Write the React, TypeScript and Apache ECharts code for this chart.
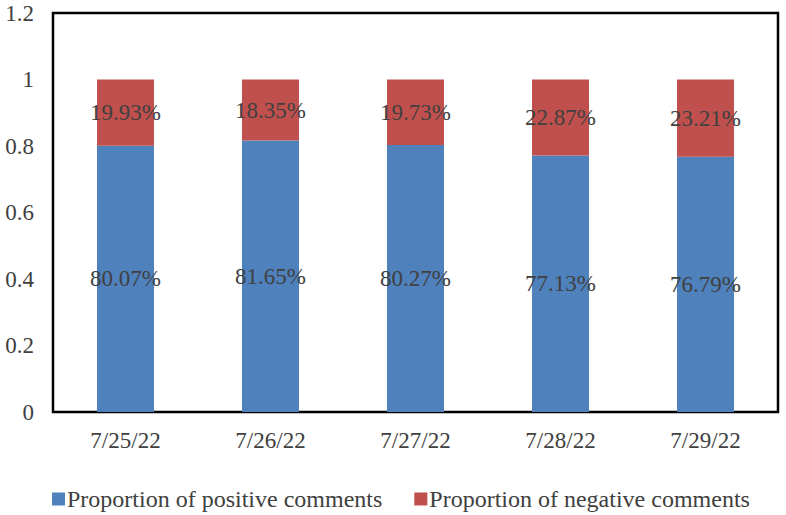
import React, { useEffect, useRef } from "react";
import * as echarts from "echarts";

const categories = ["7/25/22", "7/26/22", "7/27/22", "7/28/22", "7/29/22"];
const positive = [0.8007, 0.8165, 0.8027, 0.7713, 0.7679];
const negative = [0.1993, 0.1835, 0.1973, 0.2287, 0.2321];
const yTicks = ["0", "0.2", "0.4", "0.6", "0.8", "1", "1.2"];

const FONT = "'Liberation Serif', 'Times New Roman', serif";

export default function App() {
  const ref = useRef<HTMLDivElement>(null);
  useEffect(() => {
    if (!ref.current) return;
    const chart = echarts.init(ref.current, undefined, { renderer: "svg" });
    const label = {
      show: true,
      position: "inside" as const,
      color: "#404040",
      fontFamily: FONT,
      fontSize: 23,
      formatter: (p: any) => (p.value * 100).toFixed(2) + "%",
    };
    chart.setOption({
      animation: false,
      grid: {
        left: 53,
        right: 8,
        top: 13,
        bottom: 103,
        show: true,
        borderColor: "#000",
        borderWidth: 2.5,
        backgroundColor: "#fff",
        outerBoundsMode: "none",
      },
      legend: {
        top: 482,
        left: 47,
        itemWidth: 13,
        itemHeight: 13,
        itemGap: 32,
        icon: "rect",
        textStyle: { fontFamily: FONT, fontSize: 24, color: "#404040", padding: [0, 0, 0, -3] },
        data: ["Proportion of positive comments", "Proportion of negative comments"],
      },
      xAxis: {
        type: "category",
        data: categories,
        axisLine: { show: false },
        axisTick: { show: false },
        axisLabel: { fontFamily: FONT, fontSize: 23, color: "#404040", margin: 17 },
      },
      yAxis: {
        type: "value",
        min: 0,
        max: 1.2,
        interval: 0.2,
        splitLine: { show: false },
        axisLine: { show: false },
        axisTick: { show: false },
        axisLabel: {
          fontFamily: FONT,
          fontSize: 23,
          color: "#404040",
          margin: 19,
          formatter: (v: number) => yTicks[Math.round(v / 0.2)] ?? String(v),
        },
      },
      series: [
        {
          name: "Proportion of positive comments",
          type: "bar",
          stack: "total",
          data: positive,
          barWidth: 57,
          itemStyle: { color: "#4F81BD" },
          label,
        },
        {
          name: "Proportion of negative comments",
          type: "bar",
          stack: "total",
          data: negative,
          barWidth: 57,
          itemStyle: { color: "#C0504D" },
          label,
        },
      ],
    });
    return () => chart.dispose();
  }, []);
  return (
    <div
      ref={ref}
      style={{ position: "absolute", left: 0, top: 0, width: 786, height: 515 }}
    />
  );
}
